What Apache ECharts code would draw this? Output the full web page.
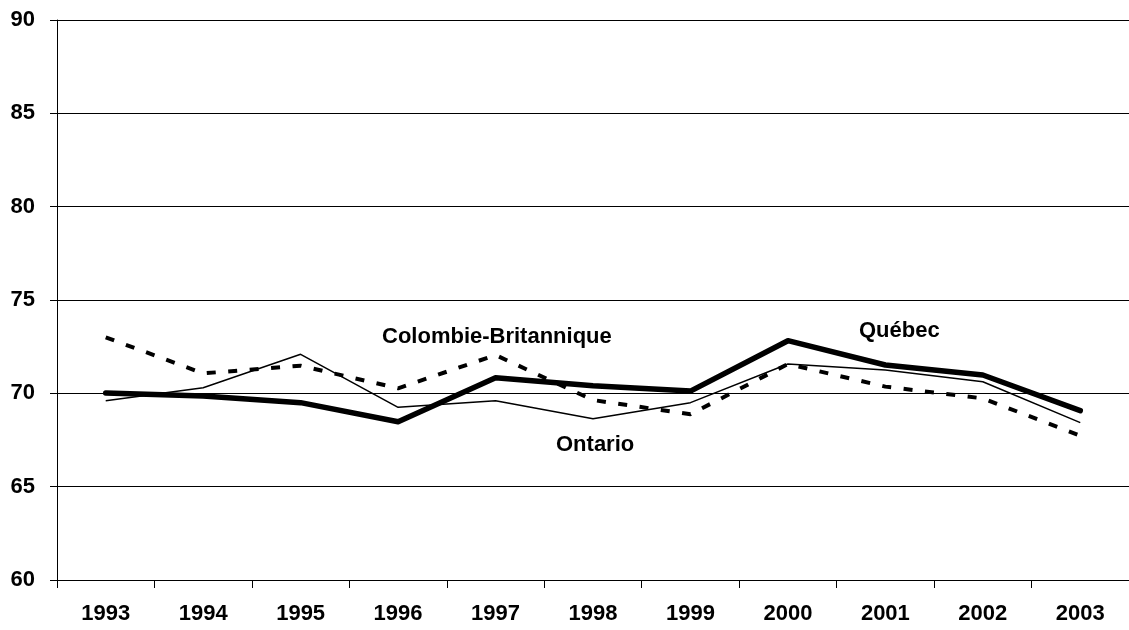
<!DOCTYPE html>
<html><head><meta charset="utf-8">
<script src="https://cdn.jsdelivr.net/npm/echarts@6/dist/echarts.min.js"></script>
<style>html,body{margin:0;padding:0;background:#fff}#c{width:1129px;height:630px}</style>
</head><body><div id="c"></div>
<script>
const years = ['1993','1994','1995','1996','1997','1998','1999','2000','2001','2002','2003'];
const quebec = [70.02, 69.86, 69.5, 68.48, 70.84, 70.41, 70.12, 72.82, 71.52, 70.98, 69.07];
const ontario = [69.6, 70.3, 72.09, 69.25, 69.6, 68.64, 69.5, 71.57, 71.25, 70.62, 68.43];
const cb = [73.0, 71.07, 71.48, 70.27, 72.05, 69.64, 68.88, 71.57, 70.36, 69.73, 67.73];
const yTicks = [60, 65, 70, 75, 80, 85, 90];

const chart = echarts.init(document.getElementById('c'), null, {renderer:'canvas'});
const FF = '"Liberation Sans", Arial, sans-serif';
const font = {fontFamily:FF, fontWeight:'bold', fontSize:22, color:'#000'};
const lblFont = 'bold 22px ' + FF;
chart.setOption({
  animation:false,
  backgroundColor:'#fff',
  grid:{left:57, right:-6, top:20, bottom:50},
  xAxis:{type:'category', data:years, boundaryGap:true,
    axisLine:{show:true, lineStyle:{color:'#000', width:1}},
    axisTick:{show:true, inside:false, length:8, lineStyle:{color:'#000'}},
    axisLabel:Object.assign({margin:23}, font),
    splitLine:{show:false}},
  yAxis:{type:'value', min:yTicks[0], max:yTicks[yTicks.length-1], interval:5,
    axisLine:{show:true, lineStyle:{color:'#000', width:1}},
    axisTick:{show:true, length:7, lineStyle:{color:'#000'}},
    axisLabel:Object.assign({margin:22}, font),
    splitLine:{show:true, lineStyle:{color:'#000', width:1}}},
  series:[
    {name:'Colombie-Britannique', type:'line', data:cb, symbol:'none',
     lineStyle:{color:'#000', width:4, type:[9,12.5]}},
    {name:'Ontario', type:'line', data:ontario, symbol:'none',
     lineStyle:{color:'#000', width:1.5}},
    {name:'Québec', type:'line', data:quebec, symbol:'none',
     lineStyle:{color:'#000', width:5.5, cap:'round', join:'round'}}
  ],
  graphic:[
    {type:'text', x:382, y:337, style:{text:'Colombie-Britannique', fill:'#000', font:lblFont, textVerticalAlign:'middle'}},
    {type:'text', x:556, y:445, style:{text:'Ontario', fill:'#000', font:lblFont, textVerticalAlign:'middle'}},
    {type:'text', x:859, y:331, style:{text:'Québec', fill:'#000', font:lblFont, textVerticalAlign:'middle'}}
  ]
});
</script></body></html>
